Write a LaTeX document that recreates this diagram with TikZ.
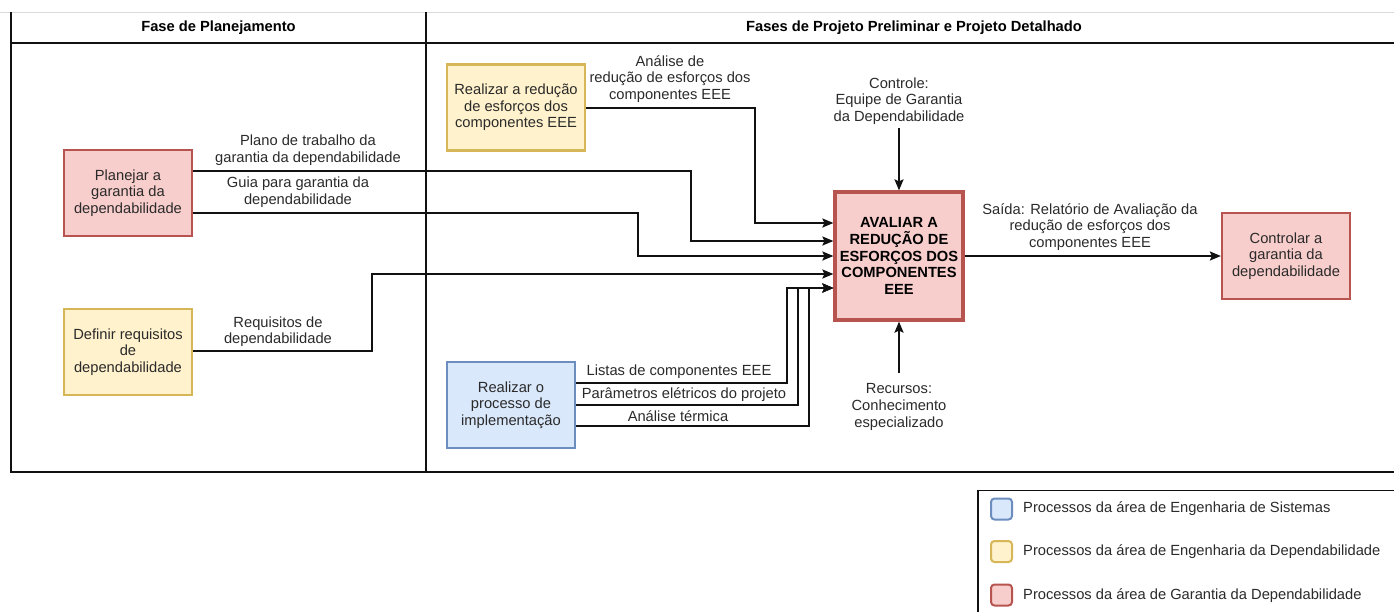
\documentclass[tikz,border=0pt]{standalone}
\usepackage{fontspec}
\setmainfont{Liberation Sans}
\usetikzlibrary{arrows.meta,calc}

\definecolor{garfill}{HTML}{F8CECC}
\definecolor{garline}{HTML}{B85450}
\definecolor{depfill}{HTML}{FFF2CC}
\definecolor{depline}{HTML}{D6B656}
\definecolor{sisfill}{HTML}{DAE8FC}
\definecolor{sisline}{HTML}{6C8EBF}
\definecolor{txt}{HTML}{2A2A2A}
\definecolor{rule}{HTML}{111111}

\begin{document}
\begin{tikzpicture}[x=1pt,y=-1pt,
  font=\fontsize{14.7}{16.6}\selectfont,
  proc/.style={draw, line width=2.2pt, minimum width=128pt, minimum height=86pt,
    align=center, inner sep=2pt, text=txt},
  garantia/.style={proc, fill=garfill, draw=garline},
  engdep/.style={proc, fill=depfill, draw=depline},
  engsis/.style={proc, fill=sisfill, draw=sisline},
  flow/.style={draw=rule, line width=2pt, -{Stealth[length=11pt,width=9pt,inset=2pt]}},
  lbl/.style={align=center, inner sep=0pt, text=txt},
  swatch/.style={draw, line width=2pt, rounded corners=3.5pt, minimum size=21pt, inner sep=0pt}
]
\useasboundingbox (0,0) rectangle (1394,611);

% swimlane frame
\draw[black!15, line width=1pt] (0,12) -- (1394,12);
\draw[rule, line width=1.8pt] (11,12) -- (11,472) -- (1394,472);
\draw[rule, line width=1.8pt] (11,43) -- (1394,43);
\draw[rule, line width=1.6pt] (426,12) -- (426,472);
\node[lbl, font=\fontsize{14.7}{16.6}\selectfont\bfseries, text=black] (hplan) at (218.5,28) {Fase de Planejamento};
\node[lbl, font=\fontsize{14.7}{16.6}\selectfont\bfseries, text=black] (hproj) at (914,28) {Fases de Projeto Preliminar e Projeto Detalhado};

% process boxes
\node[garantia] (plan) at (128,193) {Planejar a\\garantia da\\dependabilidade};
\node[engdep] (req) at (128,352) {Definir requisitos\\de\\dependabilidade};
\node[engdep, minimum width=138pt] (red) at (516,107.5) {Realizar a redução\\de esforços dos\\componentes EEE};
\node[engsis] (impl) at (511,405) {Realizar o\\processo de\\implementação};
\node[garantia, line width=3.2pt, minimum width=128pt, minimum height=128pt,
      font=\fontsize{14.7}{16.6}\selectfont\bfseries, text=black] (eval) at (899,256)
      {AVALIAR A\\REDUÇÃO DE\\ESFORÇOS DOS\\COMPONENTES\\EEE};
\node[garantia] (ctrl) at (1286,256) {Controlar a\\garantia da\\dependabilidade};

% input points on the left side of the evaluation box
\coordinate (e1) at ([yshift=33pt]eval.west);
\coordinate (e2) at ([yshift=15pt]eval.west);
\coordinate (e3) at (eval.west);
\coordinate (e4) at ([yshift=-18pt]eval.west);
\coordinate (e5) at ([yshift=-32pt]eval.west);

% inputs
\draw[flow] (red.east) -| (755,0 |- e1) -- (e1);
\draw[flow] ([yshift=22pt]plan.east) -| (691,0 |- e2) -- (e2);
\draw[flow] ([yshift=-20pt]plan.east) -| (638,0 |- e3) -- (e3);
\draw[flow] ([yshift=1pt]req.east) -| (372,0 |- e4) -- (e4);
\draw[flow] ([yshift=22pt]impl.east) -| (787,0 |- e5) -- (e5);
\draw[flow] (impl.east) -| (798,0 |- e5) -- (e5);
\draw[flow] ([yshift=-21pt]impl.east) -| (809,0 |- e5) -- (e5);

% output
\draw[flow] (eval.east) -- (ctrl.west);

% control and resources
\coordinate (cin) at (899,128);
\coordinate (rin) at (899,373);
\draw[flow] (cin) -- (eval.north);
\draw[flow] (rin) -- (eval.south);

% connector labels
\node[lbl] (lplano) at (308,150) {Plano de trabalho da\\garantia da dependabilidade};
\node[lbl] (lguia) at (298,192) {Guia para garantia da\\dependabilidade};
\node[lbl] (lreq) at (278,331.5) {Requisitos de\\dependabilidade};
\node[lbl] (lanal) at (670,79) {Análise de\\redução de esforços dos\\componentes EEE};
\node[lbl] (llist) at (679,372) {Listas de componentes EEE};
\node[lbl] (lparam) at (684,395) {Parâmetros elétricos do projeto};
\node[lbl] (lterm) at (678,416) {Análise térmica};
\node[lbl] (lctrl) at (899,101) {Controle:\\Equipe de Garantia\\da Dependabilidade};
\node[lbl] (lrec) at (899,407) {Recursos:\\Conhecimento\\especializado};
\node[lbl] (lout) at (1090,227) {Saída: Relatório de Avaliação da\\redução de esforços dos\\componentes EEE};

% legend
\draw[rule, line width=1.6pt] (978,615) -- (978,490.5) -- (1400,490.5);
\node[swatch, fill=sisfill, draw=sisline] (ksis) at (1001.5,509) {};
\node[swatch, fill=depfill, draw=depline] (kdep) at (1001.5,551.5) {};
\node[swatch, fill=garfill, draw=garline] (kgar) at (1001.5,595) {};
\node[lbl, anchor=west] (tsis) at (1023,509) {Processos da área de Engenharia de Sistemas};
\node[lbl, anchor=west] (tdep) at (1023,552) {Processos da área de Engenharia da Dependabilidade};
\node[lbl, anchor=west] (tgar) at (1023,596) {Processos da área de Garantia da Dependabilidade};
\end{tikzpicture}
\end{document}
